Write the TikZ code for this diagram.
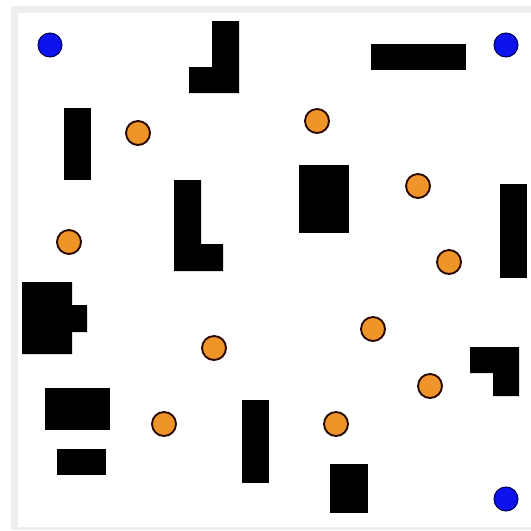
\documentclass[tikz,border=0pt]{standalone}
\usepackage{tikz}
\definecolor{goalblue}{RGB}{12,18,235}
\definecolor{goalnavy}{RGB}{0,0,80}
\definecolor{coinorange}{RGB}{238,148,40}
\definecolor{coinbrown}{RGB}{40,8,0}
\definecolor{framegray}{RGB}{238,238,238}

\begin{document}
\begin{tikzpicture}[x=0.03cm, y=-0.03cm]
\tikzstyle{goal}=[circle, draw=goalnavy, fill=goalblue, line width=0.9pt, minimum size=0.72cm, inner sep=0pt]
\tikzstyle{coin}=[circle, draw=coinbrown, fill=coinorange, line width=1.6pt, minimum size=0.72cm, inner sep=0pt]
\tikzstyle{wall}=[fill=black]
\useasboundingbox (0,0) rectangle (531,530);
% frame of the field
\fill[white] (0,0) rectangle (531,530);
\fill[framegray] (11,6) rectangle (531,530);
\fill[white] (18,13) rectangle (531,527);
% walls
\fill[wall] (212,21) -- (239,21) -- (239,93) -- (189,93) -- (189,67) -- (212,67) -- cycle;
\fill[wall] (371,44) rectangle (466,70);
\fill[wall] (64,108) rectangle (91,180);
\fill[wall] (174,180) -- (201,180) -- (201,244) -- (223,244) -- (223,271) -- (174,271) -- cycle;
\fill[wall] (299,165) rectangle (349,233);
\fill[wall] (500,184) rectangle (527,278);
\fill[wall] (22,282) -- (72,282) -- (72,305) -- (87,305) -- (87,332) -- (72,332) -- (72,354) -- (22,354) -- cycle;
\fill[wall] (45,388) rectangle (110,430);
\fill[wall] (57,449) rectangle (106,475);
\fill[wall] (242,400) rectangle (269,483);
\fill[wall] (330,464) rectangle (368,513);
\fill[wall] (470,347) -- (519,347) -- (519,396) -- (493,396) -- (493,373) -- (470,373) -- cycle;
% goals
\node[goal] (g1) at (50,45) {};
\node[goal] (g2) at (506,45) {};
\node[goal] (g3) at (506,499) {};
% coins
\node[coin] (c1) at (138,133) {};
\node[coin] (c2) at (317,121) {};
\node[coin] (c3) at (418,186) {};
\node[coin] (c4) at (69,242) {};
\node[coin] (c5) at (449,262) {};
\node[coin] (c6) at (373,329) {};
\node[coin] (c7) at (214,348) {};
\node[coin] (c8) at (430,386) {};
\node[coin] (c9) at (164,424) {};
\node[coin] (c10) at (336,424) {};
\end{tikzpicture}
\end{document}
